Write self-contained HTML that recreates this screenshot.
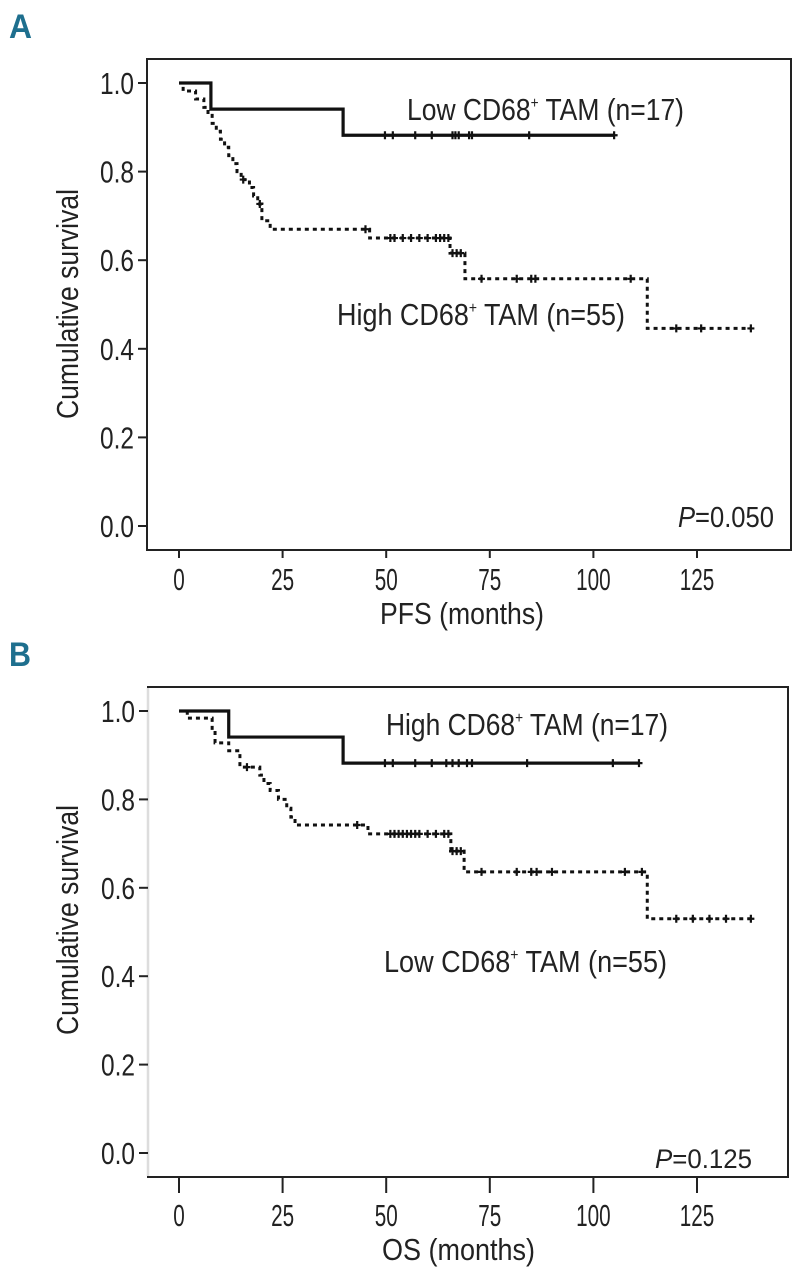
<!DOCTYPE html>
<html><head><meta charset="utf-8"><style>
html,body{margin:0;padding:0;background:#fff;}
svg{display:block;font-family:"Liberation Sans",Arial,sans-serif;}
</style></head><body>
<svg id="fig" width="800" height="1280" viewBox="0 0 800 1280" xmlns="http://www.w3.org/2000/svg">
  <text x="9" y="38" font-size="34" font-weight="bold" fill="#1e6f8e" textLength="23" lengthAdjust="spacingAndGlyphs">A</text>
  <text x="9" y="666" font-size="34" font-weight="bold" fill="#1e6f8e" textLength="22" lengthAdjust="spacingAndGlyphs">B</text>
</svg>
<script>
// ---- Panel A data (PFS) ----
const xTicks = [0, 25, 50, 75, 100, 125];
const yTicks = ["0.0", "0.2", "0.4", "0.6", "0.8", "1.0"];
const aLowTimes = [0, 7.7, 39.6, 105];
const aLowSurv  = [1.0, 0.941, 0.882, 0.882];
const aLowCens  = [49.7, 51.6, 57, 61, 66, 66.7, 67.5, 70, 70.7, 84.5, 105];
const aHighTimes = [0, 1, 4, 6, 7, 8, 9, 10, 11, 12, 13, 14, 15, 17, 18, 19, 20, 22, 46, 65.4, 69, 113, 138];
const aHighSurv  = [1.0, 0.982, 0.964, 0.945, 0.927, 0.909, 0.891, 0.873, 0.855, 0.836, 0.818, 0.80, 0.782, 0.764, 0.745, 0.727, 0.689, 0.670, 0.650, 0.616, 0.558, 0.446, 0.446];
const aHighCens  = [15.5, 19.5, 45, 51, 52, 54, 56, 58, 60, 62, 63, 64, 65, 66, 67, 68, 73, 81.5, 85, 86, 109, 120, 126, 138];
// ---- Panel B data (OS) ----
const bHighTimes = [0, 12, 39.6, 111];
const bHighSurv  = [1.0, 0.941, 0.882, 0.882];
const bHighCens  = [49.7, 51.6, 57, 61, 64.5, 66, 67.5, 69.5, 70.7, 84, 104.7, 111];
const bLowTimes = [0, 2, 8, 8.7, 12, 14.7, 19.5, 20.5, 22, 24, 26, 27, 28, 45.6, 65.6, 68.8, 113, 138];
const bLowSurv  = [1.0, 0.984, 0.957, 0.928, 0.91, 0.873, 0.855, 0.836, 0.82, 0.80, 0.78, 0.76, 0.742, 0.722, 0.683, 0.636, 0.53, 0.53];
const bLowCens  = [16.4, 43, 51, 52, 53, 54, 55, 56, 57, 58, 60, 62, 64, 65, 66, 67, 68, 73, 81.5, 85, 86.3, 90, 107.6, 111.7, 120, 124, 128, 132, 138];

const NS = "http://www.w3.org/2000/svg";
const svg = document.getElementById("fig");
function mk(tag, attrs, parent) {
  const e = document.createElementNS(NS, tag);
  for (const k in attrs) e.setAttribute(k, attrs[k]);
  (parent || svg).appendChild(e);
  return e;
}

function panel(cfg) {
  const g = mk("g", {});
  
  
  const xs = m => cfg.x0 + m * cfg.pxPerMonth;
  const ys = v => cfg.y0 - v * cfg.yRange;
  // box
  const box = mk("rect", {x: cfg.left, y: cfg.top, width: cfg.right - cfg.left, height: cfg.bottom - cfg.top, fill: "none", stroke: "#222", "stroke-width": 2}, g);
  
  
  if (cfg.lightLeft) {
    const ll = mk("line", {x1: cfg.left, x2: cfg.left, y1: cfg.top + 1, y2: cfg.bottom - 1, stroke: "#ddd", "stroke-width": 2.5}, g);
    
    
  }
  // y ticks
  yTicks.forEach((t, i) => {
    const y = ys(parseFloat(t));
    const tk = mk("line", {x1: cfg.left - 9, x2: cfg.left, y1: y, y2: y, stroke: "#222", "stroke-width": 2}, g);
    
    
    const tl = mk("text", {x: cfg.left - 13, y: y + 11, "font-size": 31, "text-anchor": "end", fill: "#222", textLength: 34, lengthAdjust: "spacingAndGlyphs"}, g);
    tl.textContent = t;
    
    
  });
  // x ticks
  xTicks.forEach(t => {
    const x = xs(t);
    const tk = mk("line", {x1: x, x2: x, y1: cfg.bottom, y2: cfg.bottom + cfg.tickLen, stroke: "#222", "stroke-width": 2}, g);
    
    
    const s = String(t);
    const tl = mk("text", {x: x, y: cfg.xLabelY, "font-size": 31, "text-anchor": "middle", fill: "#222", textLength: s.length * 11.5, lengthAdjust: "spacingAndGlyphs"}, g);
    tl.textContent = s;
    
    
  });
  // axis titles
  const xt = mk("text", {x: (cfg.xTitleX1 + cfg.xTitleX2) / 2, y: cfg.xTitleY, "font-size": 31, "text-anchor": "middle", fill: "#222", textLength: cfg.xTitleX2 - cfg.xTitleX1, lengthAdjust: "spacingAndGlyphs"}, g);
  xt.textContent = cfg.xTitle;
  
  
  const yt = mk("text", {x: 0, y: 0, "font-size": 31, "text-anchor": "middle", fill: "#222", textLength: 230, lengthAdjust: "spacingAndGlyphs", transform: "translate(78," + cfg.yTitleY + ") rotate(-90)"}, g);
  yt.textContent = "Cumulative survival";
  
  

  function curve(times, surv, cens, dashed, nm) {
    let d = "M" + xs(times[0]) + "," + ys(surv[0]);
    for (let i = 1; i < times.length; i++) {
      d += " H" + xs(times[i]) + " V" + ys(surv[i]);
    }
    const p = mk("path", {d: d, fill: "none", stroke: "#111", "stroke-width": dashed ? 3 : 3.2, "stroke-dasharray": dashed ? "4,4" : "none"}, g);
    
    
    cens.forEach(c => {
      let v = surv[0];
      for (let i = 0; i < times.length; i++) if (times[i] <= c) v = surv[i];
      const cx = xs(c), cy = ys(v);
      const m = mk("path", {d: "M" + (cx - 3.5) + "," + cy + " H" + (cx + 3.5) + " M" + cx + "," + (cy - 4) + " V" + (cy + 4), stroke: "#111", "stroke-width": 2.2}, g);
      
      
    });
  }
  curve(cfg.solid[0], cfg.solid[1], cfg.solid[2], false, cfg.solidName);
  curve(cfg.dot[0], cfg.dot[1], cfg.dot[2], true, cfg.dotName);

  cfg.labels.forEach(L => {
    const t = mk("text", {x: L.x, y: L.y, "font-size": 31, fill: "#222", textLength: L.w, lengthAdjust: "spacingAndGlyphs"}, g);
    t.innerHTML = L.html;
    
    
  });
  const pv = mk("text", {x: cfg.pX, y: cfg.pY, "font-size": cfg.pSize, fill: "#222", textLength: cfg.pW, lengthAdjust: "spacingAndGlyphs"}, g);
  pv.innerHTML = '<tspan font-style="italic">P</tspan>=' + cfg.pText;
  
  
}

panel({
  name: "panel-a-pfs", left: 147, right: 791, top: 59, bottom: 550,
  x0: 179, pxPerMonth: 4.144, y0: 526, yRange: 443, tickLen: 8, xLabelY: 590,
  xTitle: "PFS (months)", xTitleX1: 380, xTitleX2: 544, xTitleY: 624, yTitleY: 304,
  solid: [aLowTimes, aLowSurv, aLowCens], solidName: "low-cd68",
  dot: [aHighTimes, aHighSurv, aHighCens], dotName: "high-cd68",
  labels: [
    {x: 407, y: 120, w: 277, name: "legend-low-cd68", html: 'Low CD68<tspan font-size="16" dy="-12">+</tspan><tspan dy="12"> TAM (n=17)</tspan>'},
    {x: 337, y: 325, w: 288, name: "legend-high-cd68", html: 'High CD68<tspan font-size="16" dy="-12">+</tspan><tspan dy="12"> TAM (n=55)</tspan>'}
  ],
  pX: 678, pY: 527, pSize: 29, pW: 96, pText: "0.050"
});

panel({
  name: "panel-b-os", left: 148, right: 788, top: 687, bottom: 1177, lightLeft: true,
  x0: 179, pxPerMonth: 4.144, y0: 1153, yRange: 442, tickLen: 16, xLabelY: 1226,
  xTitle: "OS (months)", xTitleX1: 382, xTitleX2: 535, xTitleY: 1260, yTitleY: 920,
  solid: [bHighTimes, bHighSurv, bHighCens], solidName: "high-cd68",
  dot: [bLowTimes, bLowSurv, bLowCens], dotName: "low-cd68",
  labels: [
    {x: 386, y: 735, w: 282, name: "legend-high-cd68", html: 'High CD68<tspan font-size="16" dy="-12">+</tspan><tspan dy="12"> TAM (n=17)</tspan>'},
    {x: 384, y: 972, w: 283, name: "legend-low-cd68", html: 'Low CD68<tspan font-size="16" dy="-12">+</tspan><tspan dy="12"> TAM (n=55)</tspan>'}
  ],
  pX: 655, pY: 1168, pSize: 27, pW: 97, pText: "0.125"
});
</script>
</body></html>
